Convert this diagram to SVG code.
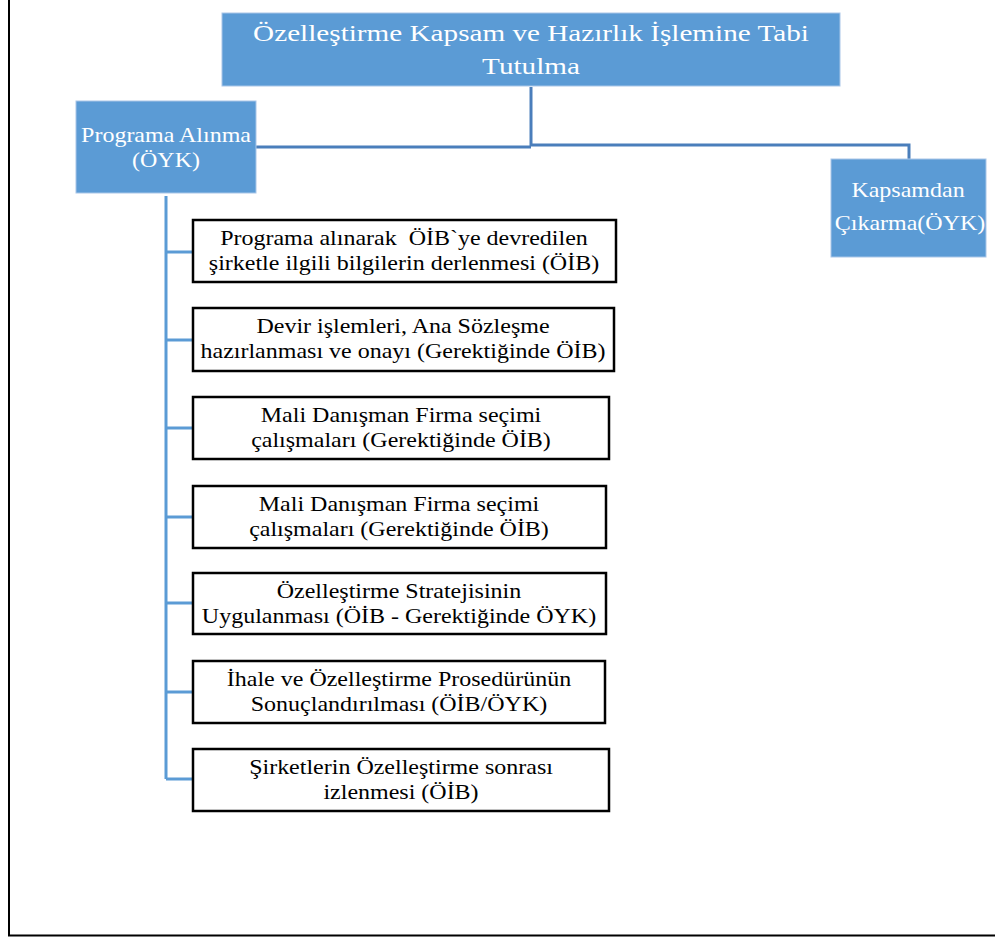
<svg xmlns="http://www.w3.org/2000/svg" width="995" height="937" viewBox="0 0 995 937">
<style>
.blue{fill:#5b9bd5;stroke:#a9c6e8;stroke-width:1}
text{font-family:'Liberation Serif','Times New Roman',serif;text-anchor:middle;white-space:pre}
.wt{fill:#ffffff;font-size:20px}
.tt{fill:#ffffff;font-size:23px}
.box{fill:#ffffff;stroke:#000000;stroke-width:2.5}
.bt{fill:#000000;font-size:20px}
.c1{stroke:#4a7ebb;stroke-width:3;fill:none}
.c2{stroke:#5b9bd5;stroke-width:3;fill:none}
.frame{stroke:#000000;stroke-width:2;fill:none}
</style>
<rect width="995" height="937" fill="#ffffff"/>
<path class="frame" d="M9,0 V935.5 H995"/>
<g id="connectors">
<path class="c1" d="M531,87 V146"/>
<path class="c1" d="M256,147 H531"/>
<path class="c1" d="M531,145 H909 V159"/>
<path class="c2" d="M166,196 V779"/>
<path class="c2" d="M166,252 H193"/>
<path class="c2" d="M166,340 H193"/>
<path class="c2" d="M166,428 H193"/>
<path class="c2" d="M166,517 H193"/>
<path class="c2" d="M166,603 H193"/>
<path class="c2" d="M166,692 H193"/>
<path class="c2" d="M166,779 H193"/>
</g>
<g id="n0">
<rect class="blue" x="222" y="13" width="618" height="73"/>
<text class="tt" transform="translate(531 41) scale(1.27 1)">Özelleştirme Kapsam ve Hazırlık İşlemine Tabi</text>
<text class="tt" transform="translate(531 74) scale(1.27 1)">Tutulma</text>
</g>
<g id="n1">
<rect class="blue" x="76" y="101" width="180" height="92"/>
<text class="wt" transform="translate(166 142) scale(1.2 1)">Programa Alınma</text>
<text class="wt" transform="translate(166 167) scale(1.2 1)">(ÖYK)</text>
</g>
<g id="n2">
<rect class="blue" x="831" y="159" width="155" height="98"/>
<text class="wt" transform="translate(908 197) scale(1.2 1)">Kapsamdan</text>
<text class="wt" transform="translate(910 230) scale(1.2 1)">Çıkarma(ÖYK)</text>
</g>
<g id="b1">
<rect class="box" x="193" y="220" width="423" height="62"/>
<text class="bt" xml:space="preserve" transform="translate(404 245) scale(1.2 1)">Programa alınarak  ÖİB`ye devredilen</text>
<text class="bt" transform="translate(404 270) scale(1.2 1)">şirketle ilgili bilgilerin derlenmesi (ÖİB)</text>
</g>
<g id="b2">
<rect class="box" x="193" y="308" width="421" height="63"/>
<text class="bt" transform="translate(403 333) scale(1.2 1)">Devir işlemleri, Ana Sözleşme</text>
<text class="bt" transform="translate(403 358) scale(1.2 1)">hazırlanması ve onayı (Gerektiğinde ÖİB)</text>
</g>
<g id="b3">
<rect class="box" x="193" y="397" width="416" height="62"/>
<text class="bt" transform="translate(401 422) scale(1.2 1)">Mali Danışman Firma seçimi</text>
<text class="bt" transform="translate(401 447) scale(1.2 1)">çalışmaları (Gerektiğinde ÖİB)</text>
</g>
<g id="b4">
<rect class="box" x="193" y="486" width="413" height="62"/>
<text class="bt" transform="translate(399 511) scale(1.2 1)">Mali Danışman Firma seçimi</text>
<text class="bt" transform="translate(399 536) scale(1.2 1)">çalışmaları (Gerektiğinde ÖİB)</text>
</g>
<g id="b5">
<rect class="box" x="193" y="573" width="413" height="61"/>
<text class="bt" transform="translate(399 598) scale(1.2 1)">Özelleştirme Stratejisinin</text>
<text class="bt" transform="translate(399 623) scale(1.2 1)">Uygulanması (ÖİB - Gerektiğinde ÖYK)</text>
</g>
<g id="b6">
<rect class="box" x="193" y="661" width="412" height="62"/>
<text class="bt" transform="translate(399 686) scale(1.2 1)">İhale ve Özelleştirme Prosedürünün</text>
<text class="bt" transform="translate(399 711) scale(1.2 1)">Sonuçlandırılması (ÖİB/ÖYK)</text>
</g>
<g id="b7">
<rect class="box" x="193" y="749" width="416" height="62"/>
<text class="bt" transform="translate(401 774) scale(1.2 1)">Şirketlerin Özelleştirme sonrası</text>
<text class="bt" transform="translate(401 799) scale(1.2 1)">izlenmesi (ÖİB)</text>
</g>
</svg>
